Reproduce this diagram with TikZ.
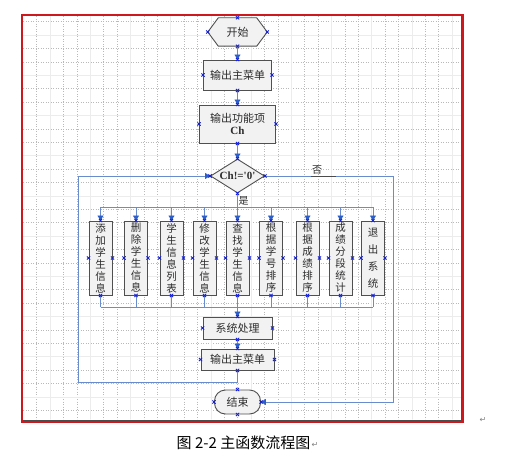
\documentclass[tikz,border=0pt]{standalone}
\usepackage{fontspec}
\setmainfont{Liberation Serif}
\newfontfamily\rmplain[Ligatures=TeXOff]{Liberation Serif}
\newfontfamily\cjk{Noto Sans CJK SC}
\newfontfamily\symf{DejaVu Sans}
\usetikzlibrary{arrows.meta,shapes.geometric}
\definecolor{linecol}{RGB}{105,140,205}
\definecolor{arrowcol}{RGB}{45,95,200}
\definecolor{markcol}{RGB}{25,35,205}
\definecolor{boxfill}{RGB}{242,242,242}
\definecolor{boxline}{RGB}{80,80,80}
\definecolor{txt}{RGB}{45,45,45}
\definecolor{framered}{RGB}{205,25,30}
\tikzset{
  box/.style={draw=boxline, fill=boxfill, line width=0.9pt, inner sep=0pt, text=txt,
              font=\cjk\fontsize{11}{13}\selectfont, align=center},
  vbox/.style={box, minimum width=23pt, minimum height=74pt, font=\cjk\fontsize{10.5}{12}\selectfont},
  flow/.style={draw=linecol, line width=0.8pt},
  arr/.style={flow, -{Triangle[width=6pt,length=5pt,color=arrowcol]}},
  cpm/.pic={\draw[markcol,line width=0.8pt] (-1.6,-1.6)--(1.6,1.6) (-1.6,1.6)--(1.6,-1.6);},
  lbl/.style={inner sep=0pt, text=txt, font=\cjk\fontsize{10}{11}\selectfont}
}
\begin{document}
\begin{tikzpicture}[x=1pt,y=-1pt]
\useasboundingbox (0,0) rectangle (521,454);
% grid
\foreach \k in {1,...,32}{\draw[gray!55, dotted, line width=0.5pt] ({23.3+13.4*\k},16.5) -- ({23.3+13.4*\k},419);}
\foreach \k in {0,...,29}{\draw[gray!55, dotted, line width=0.5pt] (23,{21.7+13.4*\k}) -- (461,{21.7+13.4*\k});}
\foreach \k in {2,5,...,32}{\draw[gray!15, line width=0.5pt] ({23.3+13.4*\k},16.5) -- ({23.3+13.4*\k},419);}
\foreach \k in {1,4,...,29}{\draw[gray!15, line width=0.5pt] (23,{21.7+13.4*\k}) -- (461,{21.7+13.4*\k});}
% frame
\draw[framered, line width=1.6pt] (22,15) rectangle (463,422);
\draw[black!70, line width=0.7pt] (22.8,420) -- (461.5,420) -- (461.5,15.8);

% nodes
\node[minimum width=59pt, minimum height=28pt, inner sep=0pt] (start) at (237.5,32) {};
\draw[box] (start.west) -- ([xshift=10.5pt]start.north west) -- ([xshift=-10.5pt]start.north east)
  -- (start.east) -- ([xshift=-10.5pt]start.south east) -- ([xshift=10.5pt]start.south west) -- cycle;
\node[text=txt, font=\cjk\fontsize{11}{13}\selectfont] at (start) {开始};
\node[box, minimum width=68pt, minimum height=30pt] (menu1) at (237.5,75) {输出主菜单};
\node[box, minimum width=76pt, minimum height=38pt] (func) at (237.5,124) {输出功能项\\[-1pt]{\rmplain\bfseries Ch}};
\node[box, diamond, aspect=1.6, minimum width=54pt, minimum height=34pt, font=\rmplain\bfseries\fontsize{11}{13}\selectfont] (dia) at (237.5,176) {Ch!='0'};

\node[vbox] (b1) at (100.5,258) {添\\加\\学\\生\\信\\息};
\node[vbox] (b2) at (136,258) {删\\除\\学\\生\\信\\息};
\node[vbox] (b3) at (171.5,258) {学\\生\\信\\息\\列\\表};
\node[vbox] (b4) at (204.5,258) {修\\改\\学\\生\\信\\息};
\node[vbox] (b5) at (237.5,258) {查\\找\\学\\生\\信\\息};
\node[vbox] (b6) at (271,258) {根\\据\\学\\号\\排\\序};
\node[vbox] (b7) at (307.5,258) {根\\据\\成\\绩\\排\\序};
\node[vbox] (b8) at (340.5,258) {成\\绩\\分\\段\\统\\计};
\node[vbox, font=\cjk\fontsize{10.5}{17}\selectfont] (b9) at (373,258) {退\\出\\系\\统};

\node[box, minimum width=69pt, minimum height=22pt] (sys) at (237.5,328) {系统处理};
\node[box, minimum width=73pt, minimum height=21pt] (menu2) at (237.5,359.5) {输出主菜单};
\node[box, rounded corners=11pt, minimum width=46pt, minimum height=24pt] (end) at (237.5,402) {结束};

% coordinates
\coordinate (busT) at (237.5,207);
\coordinate (busTL) at (100.5,207);
\coordinate (busTR) at (373,207);
\coordinate (busB) at (237.5,307);
\coordinate (busBL) at (100.5,307);
\coordinate (busBR) at (373,307);
\coordinate (loopA) at (237.5,382);
\coordinate (loopB) at (78.3,382);
\coordinate (loopC) at (78.3,176);
\coordinate (noA) at (393.3,176);
\coordinate (noB) at (393.3,402);

% connectors
\draw[arr] (start.south) -- (menu1.north);
\draw[arr] (menu1.south) -- (func.north);
\draw[arr] (func.south) -- (dia.north);
\draw[flow] (dia.south) -- (busT);
\draw[flow] (busTL) -- (busTR);
\foreach \b in {b1,b2,b3,b4,b5,b6,b7,b8,b9}{\draw[arr] (\b.north |- busT) -- (\b.north);}
\foreach \b in {b1,b2,b3,b4,b5,b6,b7,b8,b9}{\draw[flow] (\b.south) -- (\b.south |- busB);}
\draw[flow] (busBL) -- (busBR);
\draw[arr] (busB) -- (sys.north);
\draw[arr] (sys.south) -- (menu2.north);
\draw[arr] (menu2.south) -- (loopA) -- (loopB) -- (loopC) -- (dia.west);
\draw[arr] (dia.east) -- (noA) -- (noB) -- (end.east);
\draw[black!70, line width=0.9pt] (311,176) -- (336,176);

\node[lbl] (no) at (317,169.5) {否};
\node[lbl] (yes) at (243.5,201) {是};

% connection points
\foreach \n in {start,menu1,func,dia,b1,b2,b3,b4,b5,b6,b7,b8,b9,sys,menu2,end}{
  \foreach \a in {north,south,east,west}{\pic at (\n.\a) {cpm};}}

% caption
\node[inner sep=0pt, text=black, font=\cjk\fontsize{15}{17}\selectfont] (cap) at (243.5,443) {图 2-2 主函数流程图};
\node[inner sep=0pt, text=gray, font=\symf\fontsize{8}{9}\selectfont, anchor=west] (pm1) at ([xshift=1pt,yshift=-2pt]cap.east) {↵};
\node[inner sep=0pt, text=gray, font=\symf\fontsize{8}{9}\selectfont] (pm2) at (483,420) {↵};
\end{tikzpicture}
\end{document}
